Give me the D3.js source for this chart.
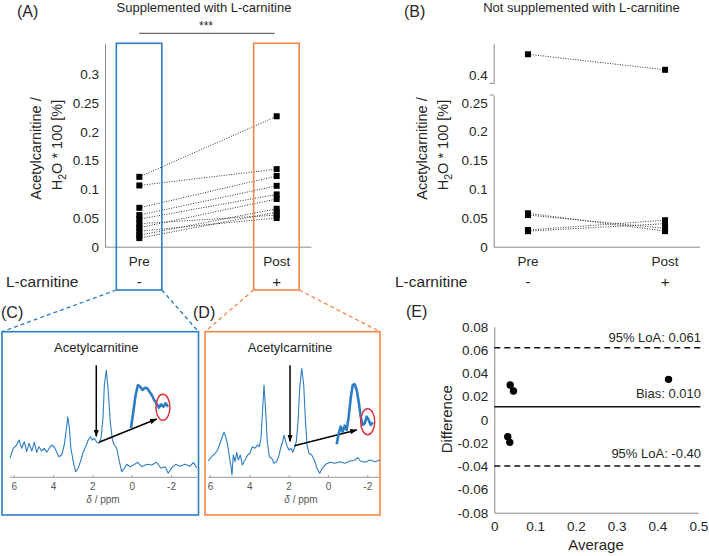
<!DOCTYPE html>
<html><head><meta charset="utf-8">
<script src="https://cdn.jsdelivr.net/npm/d3@7"></script>
<style>
html,body{margin:0;padding:0;background:#fff;}
svg{display:block;font-family:"Liberation Sans",Arial,Helvetica,sans-serif;}
</style></head>
<body><svg id="c" width="709" height="556"></svg>
<script>
// ---------- DATA ----------
const groups = ["Pre", "Post"];
const suppSigns = ["-", "+"];
const suppPre  = [0.1216, 0.1066, 0.0677, 0.055, 0.048, 0.040, 0.033, 0.027, 0.020, 0.015];
const suppPost = [0.227, 0.135, 0.123, 0.106, 0.091, 0.055, 0.083, 0.050, 0.066, 0.060];
const ticksA = [0, 0.05, 0.1, 0.15, 0.2, 0.25, 0.3];
const tickLabelsA = ["0", "0.05", "0.1", "0.15", "0.2", "0.25", "0.3"];

const nonPre  = [0.436, 0.058, 0.055, 0.029, 0.027];
const nonPost = [0.409, 0.027, 0.032, 0.046, 0.040];
const ticksBLow = [0, 0.05, 0.1, 0.15, 0.2, 0.25];
const tickLabelsBLow = ["0", "0.05", "0.1", "0.15", "0.2", "0.25"];
const ticksBHigh = [0.4];
const tickLabelsBHigh = ["0.4"];

const baAvg  = [0.039, 0.047, 0.033, 0.038, 0.427];
const baDiff = [0.0298, 0.0247, -0.0146, -0.0195, 0.0347];
const baBias = 0.0112, baLoaUp = 0.062, baLoaLow = -0.0398;
const baLabels = ["95% LoA: 0.061", "Bias: 0.010", "95% LoA: -0.40"];
const ticksEY = [0.08, 0.06, 0.04, 0.02, 0, -0.02, -0.04, -0.06, -0.08];
const tickLabelsEY = ["0.08", "0.06", "0.04", "0.02", "0", "-0.02", "-0.04", "-0.06", "-0.08"];
const ticksEX = [0, 0.1, 0.2, 0.3, 0.4, 0.5];
const tickLabelsEX = ["0", "0.1", "0.2", "0.3", "0.4", "0.5"];

// spectra (ppm, intensity a.u.)
const specCppm = [6.19,6.02,5.85,5.73,5.59,5.46,5.34,5.22,5.08,4.95,4.83,4.71,4.58,4.44,4.32,4.2,4.07,3.94,3.81,3.7,3.56,3.43,3.34,3.25,3.17,3.09,2.97,2.85,2.71,2.58,2.46,2.34,2.21,2.1,2.0,1.9,1.78,1.66,1.56,1.46,1.39,1.29,1.19,1.09,0.98,0.88,0.76,0.64,0.51,0.37,0.25,0.08,-0.09,-0.31,-0.51,-0.77,-1.02,-1.27,-1.49,-1.7,-1.86,-2.04,-2.24,-2.46,-2.71,-2.97,-3.14,-3.31];
const specCval = [19,29,32.3,37.3,29,35.6,25.6,34,26.3,35,25,30.6,26.3,29,25,29,32.3,30.6,25,20.6,22.3,32.3,45.6,60.6,49,29,15.6,5.6,9.6,17.3,25.6,30.6,37.3,40.6,37.3,39,35,34,39,59,92.3,107.3,85.6,55.6,37.3,32.3,29,17.3,5.6,9,13,10.6,12.3,15,10.6,13,12.3,15,9,10.6,4,9.6,13,11,13,11,15,9.6];
const specDppm = [6.086,5.914,5.746,5.608,5.491,5.374,5.288,5.201,5.1,5.018,4.932,4.881,4.815,4.728,4.642,4.561,4.459,4.357,4.22,4.082,3.965,3.848,3.711,3.594,3.492,3.406,3.34,3.253,3.167,3.085,2.984,2.862,2.745,2.607,2.49,2.389,2.302,2.236,2.15,2.068,1.982,1.88,1.793,1.712,1.61,1.524,1.437,1.336,1.234,1.153,1.066,0.964,0.827,0.695,0.557,0.42,0.288,0.115,-0.104,-0.358,-0.613,-0.867,-1.121,-1.376,-1.513,-1.645,-1.884,-2.138,-2.393,-2.647];
const specDval = [16.3,20.6,24,27.3,34,40.6,45,40.6,32.3,20.6,10.6,2.3,22.3,15.6,25,17.3,22.3,12.3,17.3,22.3,24,30.6,29,32.3,30.6,39,62.3,92.3,65.6,35.6,20.6,19,14,15.6,22.3,30.6,35.6,42.3,35.6,30.6,27.3,29,25,29,35.6,55.6,89,109,92.3,59,32.3,24,22.3,17.3,9,4,9,13,15,14,15.6,14,16.3,17.3,19.6,16.3,15,17.3,15.6,17.3];
// zoomed insets
const insetCppm = [2.4,2.35,2.3,2.25,2.2,2.15,2.1,2.05,2.0,1.95,1.9,1.85,1.8,1.75,1.7,1.65,1.6];
const insetCval = [0,16.6,33.3,43.3,41.6,38.3,40.6,40,36.6,33.3,28.3,25,20.6,24,21.6,25,21.6];
const insetDppm = [2.4,2.35,2.3,2.25,2.2,2.15,2.1,2.05,2.0,1.95,1.9,1.85,1.8,1.75,1.7,1.65,1.6,1.55,1.5];
const insetDval = [0,11,17.6,12.6,18.6,14.3,27.6,46,59.3,60,54.3,42.6,27.6,19.3,21,27.6,24.3,19.3,22];
const specTicks = [6, 4, 2, 0, -2];

// ---------- STYLE ----------
const BLUE = "#2d7dc2", ORANGE = "#f3874b", AX = "#8a8a8a", TXT = "#262626";
const FONT = "'Liberation Sans',Arial,Helvetica,sans-serif";
const svg = d3.select("#c");
svg.append("rect").attr("width",709).attr("height",556).attr("fill","#fff");

function txt(x, y, s, size, anchor) {
  return svg.append("text").attr("x", x).attr("y", y).text(s)
    .attr("font-size", size).attr("fill", TXT).attr("text-anchor", anchor || "start");
}
function ylabel(cy1, cy2, offs1, offs2) {
  svg.append("text").attr("transform", `translate(${offs1},${cy1}) rotate(-90)`)
    .attr("text-anchor","middle").attr("font-size",14.5).attr("fill",TXT).text("Acetylcarnitine /");
  const t = svg.append("text").attr("transform", `translate(${offs2},${cy2}) rotate(-90)`)
    .attr("text-anchor","middle").attr("font-size",14.5).attr("fill",TXT);
  t.append("tspan").text("H");
  t.append("tspan").attr("font-size",10.5).attr("dy",4).text("2");
  t.append("tspan").attr("dy",-4).text("O * 100 [%]");
}
function styleAxis(g){
  g.select(".domain").attr("stroke",AX);
  g.selectAll("text").attr("font-size",13.5).attr("fill",TXT).attr("font-family",FONT);
}

// ---------- PANEL A ----------
const xA = d3.scalePoint().domain(groups).range([105, 311]).padding(0.25);
const yA = d3.scaleLinear().domain([0, 0.354]).range([246.7, 43.3]);
const gA = svg.append("g");
gA.append("g").attr("transform","translate(105,0)")
  .call(d3.axisLeft(yA).tickValues(ticksA).tickFormat((d,i)=>tickLabelsA[i]).tickSize(0).tickPadding(6))
  .call(styleAxis);
gA.append("g").attr("transform","translate(0,246.7)")
  .call(d3.axisBottom(xA).tickSize(0).tickFormat(()=>""))
  .call(styleAxis);
suppPre.forEach((v,i)=>{
  gA.append("line").attr("x1",xA("Pre")).attr("y1",yA(v)).attr("x2",xA("Post")).attr("y2",yA(suppPost[i]))
    .attr("stroke","#333").attr("stroke-width",1).attr("stroke-dasharray","1,1.5");
});
suppPre.forEach(v=>gA.append("rect").attr("x",xA("Pre")-3).attr("y",yA(v)-3).attr("width",6).attr("height",6).attr("fill","#000"));
suppPost.forEach(v=>gA.append("rect").attr("x",xA("Post")-3).attr("y",yA(v)-3).attr("width",6).attr("height",6).attr("fill","#000"));
gA.append("rect").attr("x",xA("Pre")-23).attr("y",43.3).attr("width",45.5).attr("height",246.7).attr("fill","none").attr("stroke",BLUE).attr("stroke-width",1.6);
gA.append("rect").attr("x",xA("Post")-23).attr("y",43.3).attr("width",45.5).attr("height",246.7).attr("fill","none").attr("stroke",ORANGE).attr("stroke-width",1.6);
groups.forEach(g=>txt(xA(g),266,g,13.5,"middle"));
suppSigns.forEach((s,i)=>txt(xA(groups[i]),287,s,15,"middle"));
txt(6,287,"L-carnitine",15.5,"start");
txt(204,12,"Supplemented with L-carnitine",13,"middle");
txt(17,17,"(A)",16,"start");
gA.append("line").attr("x1",xA("Pre")).attr("x2",xA("Post")-2).attr("y1",33.3).attr("y2",33.3).attr("stroke","#444").attr("stroke-width",1);
txt(206,30,"***",12,"middle");
ylabel(148.5,145,41,62);

// ---------- PANEL B ----------
const xB = d3.scalePoint().domain(groups).range([493.7, 699.3]).padding(0.25);
const yBL = d3.scaleLinear().domain([0, 0.2635]).range([246.7, 95]);
const yBH = d3.scaleLinear().domain([0.3856, 0.455]).range([83.3, 43.3]);
const gB = svg.append("g");
gB.append("g").attr("transform","translate(493.7,0)")
  .call(d3.axisLeft(yBL).tickValues(ticksBLow).tickFormat((d,i)=>tickLabelsBLow[i]).tickSize(0).tickPadding(6))
  .call(styleAxis);
gB.append("g").attr("transform","translate(493.7,0)")
  .call(d3.axisLeft(yBH).tickValues(ticksBHigh).tickFormat((d,i)=>tickLabelsBHigh[i]).tickSize(0).tickPadding(6))
  .call(styleAxis);
gB.append("line").attr("x1",489.5).attr("x2",493.7).attr("y1",yBH.range()[0]).attr("y2",yBH.range()[0]).attr("stroke",AX);
gB.append("line").attr("x1",489.5).attr("x2",493.7).attr("y1",yBL.range()[1]).attr("y2",yBL.range()[1]).attr("stroke",AX);
gB.append("g").attr("transform","translate(0,246.7)")
  .call(d3.axisBottom(xB).tickSize(0).tickFormat(()=>""))
  .call(styleAxis);
const yB = v => v > 0.3 ? yBH(v) : yBL(v);
nonPre.forEach((v,i)=>{
  gB.append("line").attr("x1",xB("Pre")).attr("y1",yB(v)).attr("x2",xB("Post")).attr("y2",yB(nonPost[i]))
    .attr("stroke","#333").attr("stroke-width",1).attr("stroke-dasharray","1,1.5");
});
nonPre.forEach(v=>gB.append("rect").attr("x",xB("Pre")-3).attr("y",yB(v)-3).attr("width",6).attr("height",6).attr("fill","#000"));
nonPost.forEach(v=>gB.append("rect").attr("x",xB("Post")-3).attr("y",yB(v)-3).attr("width",6).attr("height",6).attr("fill","#000"));
groups.forEach(g=>txt(xB(g),266,g,13.5,"middle"));
suppSigns.forEach((s,i)=>txt(xB(groups[i]),287,s,15,"middle"));
txt(395,287,"L-carnitine",15.5,"start");
txt(581.5,12,"Not supplemented with L-carnitine",13,"middle");
txt(404,17,"(B)",16,"start");
ylabel(148.5,145,427,448);

// ---------- PANELS C & D (spectra) ----------
function spectrum(cfg) {
  const g = svg.append("g");
  const x = d3.scaleLinear().domain(cfg.ppmDomain).range(cfg.xRange);
  const y = d3.scaleLinear().domain([0, 110]).range([477.3, 367.3]);
  g.append("rect").attr("x",cfg.box[0]).attr("y",cfg.box[1]).attr("width",cfg.box[2]-cfg.box[0]).attr("height",cfg.box[3]-cfg.box[1])
    .attr("fill","none").attr("stroke",cfg.color).attr("stroke-width",1.6);
  cfg.conn.forEach(c=>g.append("line").attr("x1",c[0]).attr("y1",c[1]).attr("x2",c[2]).attr("y2",c[3])
    .attr("stroke",cfg.color).attr("stroke-width",1.3).attr("stroke-dasharray","4,3"));
  const ax = g.append("g").attr("transform","translate(0,477.3)")
    .call(d3.axisBottom(x).tickValues(specTicks).tickFormat(d=>d3.format("d")(d).replace("−","-")).tickSize(-2).tickPadding(6).tickSizeOuter(0));
  ax.select(".domain").attr("stroke","#999").attr("d",`M${cfg.axisX[0]},0H${cfg.axisX[1]}`);
  ax.selectAll("line").attr("stroke","#999");
  ax.selectAll("text").attr("font-size",10).attr("fill","#555").attr("font-family",FONT);
  const lab = g.append("text").attr("x",cfg.labX).attr("y",503).attr("text-anchor","middle").attr("font-size",10).attr("fill","#555");
  lab.append("tspan").attr("font-style","italic").text("δ");
  lab.append("tspan").text(" / ppm");
  const line = d3.line().x(d=>x(d[0])).y(d=>y(d[1]));
  g.append("path").datum(cfg.ppm.map((p,i)=>[p,cfg.val[i]])).attr("d",line)
    .attr("fill","none").attr("stroke",BLUE).attr("stroke-width",1.1).attr("stroke-linejoin","round");
  g.append("text").attr("x",x(cfg.arrowPpm)).attr("y",352).attr("text-anchor","middle").attr("font-size",13).attr("fill",TXT).text("Acetylcarnitine");
  const defsId = "ah" + cfg.id;
  svg.append("defs").append("marker").attr("id",defsId).attr("viewBox","0 0 10 10").attr("refX",9).attr("refY",5)
    .attr("markerWidth",5).attr("markerHeight",5).attr("orient","auto")
    .append("path").attr("d","M0,1.5 L10,5 L0,8.5 z").attr("fill","#000");
  g.append("line").attr("x1",x(cfg.arrowPpm)).attr("x2",x(cfg.arrowPpm)).attr("y1",y(cfg.arrowTop)).attr("y2",y(cfg.arrowBot))
    .attr("stroke","#000").attr("stroke-width",1.5).attr("marker-end",`url(#${defsId})`);
  const xi = d3.scaleLinear().domain([cfg.insetPpm[0], cfg.insetPpm[cfg.insetPpm.length-1]]).range(cfg.insetX);
  const yi = d3.scaleLinear().domain(cfg.insetYDomain).range(cfg.insetY);
  const s = cfg.diagStart, e = cfg.diagEnd;
  g.append("line").attr("x1",x(s[0])).attr("y1",y(s[1])).attr("x2",xi(e[0])).attr("y2",yi(e[1]))
    .attr("stroke","#000").attr("stroke-width",1.5).attr("marker-end",`url(#${defsId})`);
  g.append("path").datum(cfg.insetPpm.map((p,i)=>[p,cfg.insetVal[i]]))
    .attr("d",d3.line().x(d=>xi(d[0])).y(d=>yi(d[1]))).attr("fill","none").attr("stroke",BLUE).attr("stroke-width",2.6).attr("stroke-linejoin","round");
  g.append("ellipse").attr("cx",xi(cfg.ell[0])).attr("cy",yi(cfg.ell[1])).attr("rx",7).attr("ry",13)
    .attr("fill","none").attr("stroke","#e0303a").attr("stroke-width",1.5);
  txt(cfg.tag[0],318,cfg.tag[1],16,"start");
}
spectrum({id:"C", color:BLUE, ppmDomain:[6,-2], xRange:[13.7,171], axisX:[10,197],
  box:[2,331.7,198.5,515], conn:[[xA("Pre")-23,290,2,331.7],[xA("Pre")+22.5,290,198.5,331.7]],
  labX:103, ppm:specCppm, val:specCval, arrowPpm:1.8, arrowTop:112, arrowBot:41,
  insetPpm:insetCppm, insetVal:insetCval, insetX:[131,168], insetY:[428.3,384.3], insetYDomain:[0,44],
  diagStart:[1.66,35], diagEnd:[1.845,9.3], ell:[1.71,21], tag:[1,"(C)"]});
spectrum({id:"D", color:ORANGE, ppmDomain:[6,-2], xRange:[210,367.3], axisX:[207.7,379],
  box:[205,331.7,380,515], conn:[[xA("Post")-23,290,205,331.7],[xA("Post")+22.5,290,380,331.7]],
  labX:301, ppm:specDppm, val:specDval, arrowPpm:1.93, arrowTop:112, arrowBot:36,
  insetPpm:insetDppm, insetVal:insetDval, insetX:[336.7,372.7], insetY:[444.3,384.3], insetYDomain:[0,60],
  diagStart:[1.71,31.6], diagEnd:[1.9,14.3], ell:[1.625,22.6], tag:[193,"(D)"]});

// ---------- PANEL E ----------
const xE = d3.scaleLinear().domain([0, 0.5]).range([494.3, 698.3]);
const yE = d3.scaleLinear().domain([-0.08, 0.08]).range([512.7, 326.7]);
const gE = svg.append("g");
gE.append("g").attr("transform","translate(494.3,0)")
  .call(d3.axisLeft(yE).tickValues(ticksEY).tickFormat((d,i)=>tickLabelsEY[i]).tickSize(0).tickPadding(6))
  .call(styleAxis);
gE.append("g").attr("transform","translate(0,512.7)")
  .call(d3.axisBottom(xE).tickValues(ticksEX).tickFormat((d,i)=>tickLabelsEX[i]).tickSize(0).tickPadding(9))
  .call(styleAxis);
[[baLoaUp,"6,4"],[baBias,null],[baLoaLow,"6,4"]].forEach(([v,dash])=>{
  const l = gE.append("line").attr("x1",xE(0)).attr("x2",xE(0.505)).attr("y1",yE(v)).attr("y2",yE(v))
    .attr("stroke","#111").attr("stroke-width",1.5);
  if (dash) l.attr("stroke-dasharray",dash);
});
baAvg.forEach((a,i)=>gE.append("circle").attr("cx",xE(a)).attr("cy",yE(baDiff[i])).attr("r",3.7).attr("fill","#000"));
txt(701,341.7,baLabels[0],13,"end");
txt(701,398.3,baLabels[1],13,"end");
txt(701,457.7,baLabels[2],13,"end");
txt(596,550,"Average",15,"middle");
svg.append("text").attr("transform","translate(451.7,419.3) rotate(-90)").attr("text-anchor","middle")
  .attr("font-size",15).attr("fill",TXT).text("Difference");
txt(406,317,"(E)",16,"start");
</script></body></html>
